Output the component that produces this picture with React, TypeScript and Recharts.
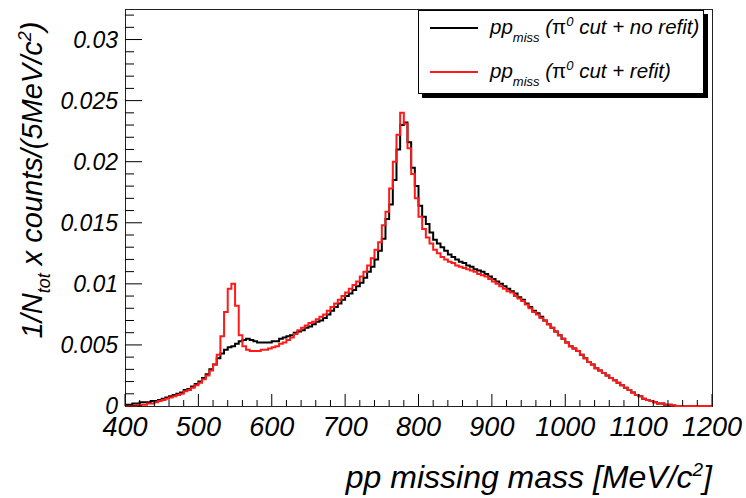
import React from 'react';
import { LineChart, Line, XAxis, YAxis } from 'recharts';

// Histogram binning (MeV/c^2)
const MASS_MIN = 400;
const MASS_MAX = 1200;
const BIN_WIDTH = 5;

// pp missing mass, pi0 cut, no kinematic refit (normalised counts per 5 MeV/c^2 bin)
const noRefit = [
  0.0001, 0.0001, 0.0002, 0.0002, 0.0003, 0.0003, 0.0003, 0.0004, 0.0004, 0.0005,
  0.0006, 0.0007, 0.0008, 0.0009, 0.0010, 0.0011, 0.0013, 0.0014, 0.0016, 0.0018,
  0.0020, 0.0023, 0.0026, 0.0030, 0.0034, 0.0039, 0.0043, 0.0046, 0.0048, 0.0049,
  0.0051, 0.0053, 0.0054, 0.0055, 0.0054, 0.0053, 0.0052, 0.0052, 0.0052, 0.0052,
  0.0053, 0.0053, 0.0055, 0.0056, 0.0057, 0.0058, 0.0060, 0.0061, 0.0062, 0.0064,
  0.0065, 0.0067, 0.0069, 0.0070, 0.0072, 0.0075, 0.0078, 0.0081, 0.0084, 0.0087,
  0.0090, 0.0092, 0.0095, 0.0098, 0.0101, 0.0105, 0.0110, 0.0114, 0.0120, 0.0127,
  0.0137, 0.0153, 0.0165, 0.0185, 0.0210, 0.0230, 0.0232, 0.0216, 0.0195, 0.0180,
  0.0164, 0.0155, 0.0149, 0.0142, 0.0136, 0.0133, 0.0130, 0.0127, 0.0124, 0.0122,
  0.0120, 0.0118, 0.0117, 0.0115, 0.0114, 0.0112, 0.0111, 0.0110, 0.0108, 0.0106,
  0.0104, 0.0102, 0.0100, 0.0098, 0.0096, 0.0094, 0.0092, 0.0089, 0.0087, 0.0084,
  0.0081, 0.0078, 0.0076, 0.0073, 0.0070, 0.0067, 0.0064, 0.0061, 0.0058, 0.0055,
  0.0052, 0.0049, 0.0047, 0.0045, 0.0042, 0.0039, 0.0036, 0.0034, 0.0031, 0.0029,
  0.0027, 0.0025, 0.0023, 0.0021, 0.0019, 0.0017, 0.0015, 0.0013, 0.0011, 0.0009,
  0.0008, 0.0006, 0.0005, 0.0004, 0.0003, 0.0002, 0.0002, 0.0001, 0.0001, 0.00005,
  0, 0, 0, 0, 0, 0, 0, 0, 0, 0,
];

// pp missing mass, pi0 cut, with kinematic refit
const refit = [
  0, 0, 0, 0.0001, 0.0001, 0.0001, 0.0002, 0.0002, 0.0003, 0.0004,
  0.0005, 0.0006, 0.0007, 0.0008, 0.0009, 0.0010, 0.0012, 0.0013, 0.0015, 0.0017,
  0.0019, 0.0022, 0.0025, 0.0029, 0.0034, 0.0042, 0.0057, 0.0077, 0.0096, 0.0100,
  0.0082, 0.0058, 0.0049, 0.0046, 0.0045, 0.0045, 0.0045, 0.0046, 0.0046, 0.0047,
  0.0048, 0.0049, 0.0051, 0.0052, 0.0054, 0.0056, 0.0059, 0.0062, 0.0064, 0.0066,
  0.0068, 0.0069, 0.0071, 0.0073, 0.0075, 0.0078, 0.0081, 0.0084, 0.0087, 0.0090,
  0.0093, 0.0096, 0.0099, 0.0102, 0.0106, 0.0110, 0.0115, 0.0121, 0.0128, 0.0134,
  0.0148, 0.0159, 0.0178, 0.0200, 0.0222, 0.0240, 0.0231, 0.0211, 0.0190, 0.0170,
  0.0155, 0.0145, 0.0138, 0.0133, 0.0128, 0.0125, 0.0122, 0.0120, 0.0118, 0.0117,
  0.0115, 0.0114, 0.0113, 0.0112, 0.0111, 0.0110, 0.0108, 0.0107, 0.0106, 0.0104,
  0.0102, 0.0100, 0.0098, 0.0096, 0.0094, 0.0093, 0.0090, 0.0088, 0.0086, 0.0083,
  0.0080, 0.0077, 0.0075, 0.0072, 0.0070, 0.0067, 0.0064, 0.0061, 0.0058, 0.0055,
  0.0052, 0.0049, 0.0047, 0.0045, 0.0042, 0.0039, 0.0036, 0.0034, 0.0031, 0.0029,
  0.0027, 0.0025, 0.0023, 0.0021, 0.0019, 0.0017, 0.0015, 0.0013, 0.0011, 0.0009,
  0.0008, 0.0006, 0.0005, 0.0004, 0.0003, 0.0002, 0.0002, 0.0001, 0.0001, 0.00005,
  0, 0, 0, 0, 0, 0, 0, 0, 0, 0,
];

// Axis ticks: majors carry labels, minors are bare tick marks
const xMajorTicks = [400, 500, 600, 700, 800, 900, 1000, 1100, 1200];
const xMinorStep = 20;
const yMajorTicks = [0, 0.005, 0.01, 0.015, 0.02, 0.025, 0.03];
const yMinorStep = 0.001;
const Y_MAX = 0.0325;

const seriesNames = {
  noRefit: 'no refit',
  refit: 'refit',
};

const COLOR_NO_REFIT = '#000000';
const COLOR_REFIT = '#ff1a1a';
const FONT = "'Liberation Sans', Arial, Helvetica, sans-serif";

// Plot frame geometry (pixels)
const CHART_W = 746;
const CHART_H = 498;
const PLOT = { left: 125, top: 9, right: 712, bottom: 406 };

// Step-histogram rows: one row per bin low edge, plus the closing upper edge
const rows = noRefit.map((v, i) => ({
  mass: MASS_MIN + i * BIN_WIDTH,
  noRefit: v,
  refit: refit[i],
}));
rows.push({
  mass: MASS_MAX,
  noRefit: noRefit[noRefit.length - 1],
  refit: refit[refit.length - 1],
});

const xTicks: number[] = [];
for (let v = MASS_MIN; v <= MASS_MAX; v += xMinorStep) xTicks.push(v);
const yTicks: number[] = [];
for (let k = 0; k * yMinorStep <= Y_MAX + 1e-9; k++) yTicks.push(+(k * yMinorStep).toFixed(4));

const isMajorY = (v: number) => yMajorTicks.some((m) => Math.abs(m - v) < 1e-7);

const XTick = (props: any) => {
  const { x, y, payload } = props;
  const v = payload.value as number;
  const major = xMajorTicks.includes(v);
  return (
    <g>
      <line x1={x} x2={x} y1={y} y2={y - (major ? 12 : 6)} stroke="#000" strokeWidth={1} />
      {major && (
        <text
          x={x}
          y={y + 30}
          textAnchor="middle"
          fontFamily={FONT}
          fontStyle="italic"
          fontSize={27}
          fill="#000"
        >
          {v}
        </text>
      )}
    </g>
  );
};

const YTick = (props: any) => {
  const { x, y, payload } = props;
  const v = payload.value as number;
  const major = isMajorY(v);
  return (
    <g>
      <line x1={x} x2={x + (major ? 17 : 9)} y1={y} y2={y} stroke="#000" strokeWidth={1} />
      {major && (
        <text
          x={x - 7}
          y={y + 8}
          textAnchor="end"
          fontFamily={FONT}
          fontStyle="italic"
          fontSize={23}
          fill="#000"
        >
          {String(parseFloat(v.toFixed(3)))}
        </text>
      )}
    </g>
  );
};

const LegendBox = () => (
  <div
    style={{
      position: 'absolute',
      left: 418,
      top: 10,
      width: 286,
      height: 84,
      boxSizing: 'border-box',
      border: '1px solid #000',
      background: '#fff',
      boxShadow: '4px 4px 0 #000',
    }}
  >
    <svg width={284} height={82} style={{ display: 'block' }}>
      {[
        { key: 'noRefit', color: COLOR_NO_REFIT, cy: 17 },
        { key: 'refit', color: COLOR_REFIT, cy: 61 },
      ].map((row) => (
        <g key={row.key}>
          <line x1={11} x2={59} y1={row.cy} y2={row.cy} stroke={row.color} strokeWidth={2} />
          <text x={71} y={row.cy + 6} fontFamily={FONT} fontStyle="italic" fontSize={20.5} fill="#000">
            pp
            <tspan dy={8} fontSize={13}>miss</tspan>
            <tspan dy={-8}> (</tspan>
            <tspan fontStyle="normal">π</tspan>
            <tspan dy={-8} fontSize={13}>0</tspan>
            <tspan dy={8}>{` cut + ${seriesNames[row.key as 'noRefit' | 'refit']})`}</tspan>
          </text>
        </g>
      ))}
    </svg>
  </div>
);

const Titles = () => (
  <svg
    width={CHART_W}
    height={CHART_H}
    style={{ position: 'absolute', left: 0, top: 0, pointerEvents: 'none' }}
  >
    <text
      x={712}
      y={488}
      textAnchor="end"
      fontFamily={FONT}
      fontStyle="italic"
      fontSize={32}
      fill="#000"
    >
      pp missing mass [MeV/c
      <tspan dy={-12} fontSize={19}>2</tspan>
      <tspan dy={12}>]</tspan>
    </text>
    <text
      x={42}
      y={180}
      transform="rotate(-90 42 180)"
      textAnchor="middle"
      fontFamily={FONT}
      fontStyle="italic"
      fontSize={29}
      fill="#000"
    >
      1/N
      <tspan dy={8} fontSize={18}>tot</tspan>
      <tspan dy={-8}> x counts/(5MeV/c</tspan>
      <tspan dy={-11} fontSize={18}>2</tspan>
      <tspan dy={11}>)</tspan>
    </text>
  </svg>
);

export default function App() {
  return (
    <div style={{ position: 'absolute', left: 0, top: 0, width: CHART_W, height: CHART_H, background: '#fff' }}>
      {/* plot frame sits beneath the chart so the histograms draw over it */}
      <div
        style={{
          position: 'absolute',
          left: PLOT.left - 0.5,
          top: PLOT.top - 0.5,
          width: PLOT.right - PLOT.left + 1,
          height: PLOT.bottom - PLOT.top + 1,
          boxSizing: 'border-box',
          border: '1px solid #222',
        }}
      />
      <div style={{ position: 'absolute', left: 0, top: 0 }}>
        <LineChart
          width={CHART_W}
          height={CHART_H}
          data={rows}
          margin={{ top: PLOT.top, right: CHART_W - PLOT.right, left: 0, bottom: 0 }}
        >
          <XAxis
            type="number"
            dataKey="mass"
            domain={[MASS_MIN, MASS_MAX]}
            ticks={xTicks}
            interval={0}
            height={CHART_H - PLOT.bottom}
            tickSize={0}
            tickMargin={0}
            tickLine={false}
            axisLine={false}
            tick={<XTick />}
          />
          <YAxis
            type="number"
            domain={[0, Y_MAX]}
            ticks={yTicks}
            interval={0}
            width={PLOT.left}
            tickSize={0}
            tickMargin={0}
            tickLine={false}
            axisLine={false}
            tick={<YTick />}
          />
          <Line
            type="stepAfter"
            dataKey="noRefit"
            stroke={COLOR_NO_REFIT}
            strokeWidth={2}
            dot={false}
            activeDot={false}
            isAnimationActive={false}
          />
          <Line
            type="stepAfter"
            dataKey="refit"
            stroke={COLOR_REFIT}
            strokeWidth={2}
            dot={false}
            activeDot={false}
            isAnimationActive={false}
          />
        </LineChart>
      </div>
      <Titles />
      <LegendBox />
    </div>
  );
}
